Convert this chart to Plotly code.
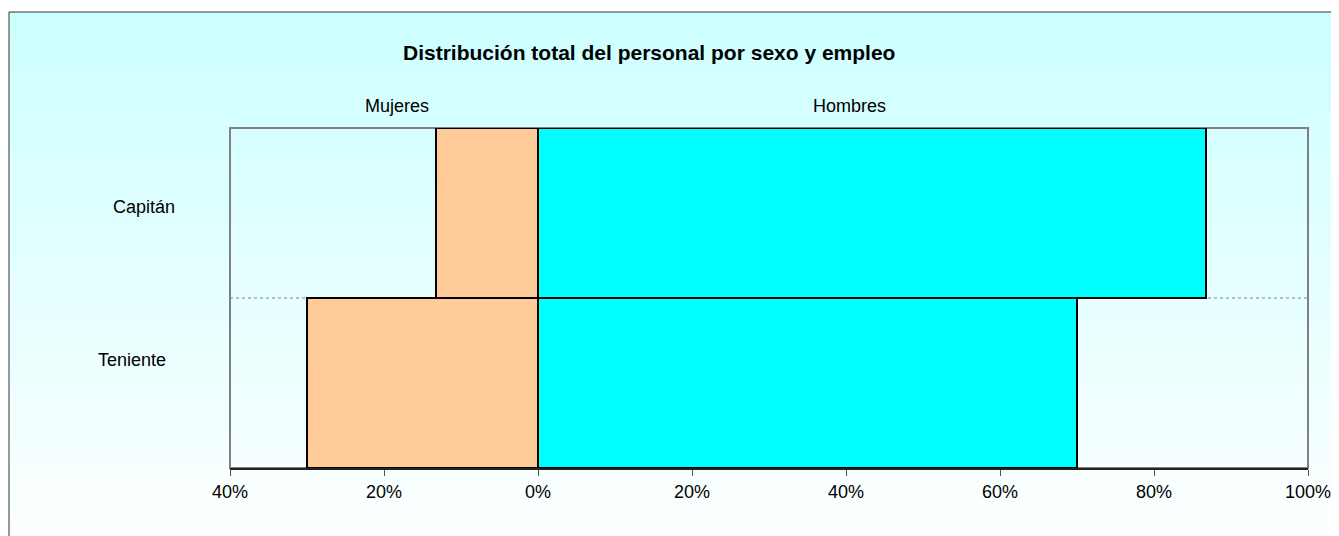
import plotly.graph_objects as go

# ---- data ----
categories = ["Teniente", "Capitán"]
mujeres = [-30.0, -13.3]
hombres = [70.0, 86.7]
tick_values = [-40, -20, 0, 20, 40, 60, 80, 100]
tick_labels = ["40%", "20%", "0%", "20%", "40%", "60%", "80%", "100%"]
title_text = "Distribución total del personal por sexo y empleo"
series_names = ["Mujeres", "Hombres"]

FONT = "Arial, Liberation Sans, sans-serif"
OFF = 8  # default page body margin
W, H = 1335, 528
# plot area in page pixels
PL, PR, PT, PB = 230, 1308, 128, 468
ML, MT = PL - OFF, PT - OFF
MR = (OFF + W) - PR
MB = (OFF + H) - PB
PW = PR - PL
PH = PB - PT


def px_x(x):
    return (x - PL) / PW


def px_y(y):
    return (PB - y) / PH


fig = go.Figure()
fig.add_trace(go.Bar(y=categories, x=mujeres, orientation="h", name=series_names[0],
                     marker=dict(color="#FFCC99", line=dict(color="black", width=2)),
                     hovertemplate="%{y}: %{x}%<extra>Mujeres</extra>"))
fig.add_trace(go.Bar(y=categories, x=hombres, orientation="h", name=series_names[1],
                     marker=dict(color="#00FFFF", line=dict(color="black", width=2)),
                     hovertemplate="%{y}: %{x}%<extra>Hombres</extra>"))

shapes = []
# gradient background (chart area)
top_px, bot_px = 12, 560
n = 80
for i in range(n):
    t = i / (n - 1)
    c = int(round(204 + (255 - 204) * t))
    y_a = top_px + (bot_px - top_px) * i / n
    y_b = top_px + (bot_px - top_px) * (i + 1) / n + 1
    shapes.append(dict(type="rect", xref="paper", yref="paper",
                       x0=px_x(9), x1=px_x(1360), y0=px_y(y_b), y1=px_y(y_a),
                       fillcolor=f"rgb({c},255,255)", line=dict(width=0), layer="below"))
# chart border
shapes.append(dict(type="rect", xref="paper", yref="paper",
                   x0=px_x(9), x1=px_x(1360), y0=px_y(580), y1=px_y(12),
                   line=dict(color="#333333", width=1), fillcolor="rgba(0,0,0,0)", layer="below"))
# category separator (dotted)
shapes.append(dict(type="line", xref="paper", yref="y", x0=0, x1=1, y0=0.5, y1=0.5,
                   line=dict(color="#808080", width=1, dash="dot"), layer="below"))
# plot border left/top/right
shapes.append(dict(type="rect", xref="paper", yref="paper", x0=0, x1=1, y0=0, y1=1,
                   line=dict(color="#808080", width=2), fillcolor="rgba(0,0,0,0)", layer="below"))

annotations = [
    dict(text=f"<b>{title_text}</b>", xref="paper", yref="paper", x=px_x(648.5), y=px_y(53),
         showarrow=False, xanchor="center", yanchor="middle", font=dict(size=21, color="black", family=FONT)),
    dict(text=series_names[0], xref="paper", yref="paper", x=px_x(396.5), y=px_y(105.5),
         showarrow=False, xanchor="center", yanchor="middle", font=dict(size=18, color="black", family=FONT)),
    dict(text=series_names[1], xref="paper", yref="paper", x=px_x(849), y=px_y(105.5),
         showarrow=False, xanchor="center", yanchor="middle", font=dict(size=18, color="black", family=FONT)),
    dict(text=categories[1], xref="paper", yref="y", x=px_x(143.5), y=categories[1], yshift=6,
         showarrow=False, xanchor="center", yanchor="middle", font=dict(size=18, color="black", family=FONT)),
    dict(text=categories[0], xref="paper", yref="y", x=px_x(131.5), y=categories[0], yshift=23,
         showarrow=False, xanchor="center", yanchor="middle", font=dict(size=18, color="black", family=FONT)),
]

fig.update_layout(
    width=W, height=H,
    margin=dict(l=ML, r=MR, t=MT, b=MB, pad=0),
    paper_bgcolor="white",
    plot_bgcolor="rgba(0,0,0,0)",
    barmode="relative",
    bargap=0,
    showlegend=False,
    font=dict(family=FONT, size=18, color="black"),
    shapes=shapes,
    annotations=annotations,
    xaxis=dict(range=[-40, 100], tickvals=tick_values, ticktext=tick_labels,
               showgrid=False, zeroline=False, showline=True, linecolor="#222222", linewidth=2,
               ticks="outside", ticklen=6, tickwidth=1, tickcolor="#555555",
               tickfont=dict(size=18, color="black", family=FONT), fixedrange=True),
    yaxis=dict(range=[-0.5, 1.5], showticklabels=False, showgrid=False, zeroline=False,
               showline=False, ticks="", fixedrange=True),
)

fig.write_html("out.html")
